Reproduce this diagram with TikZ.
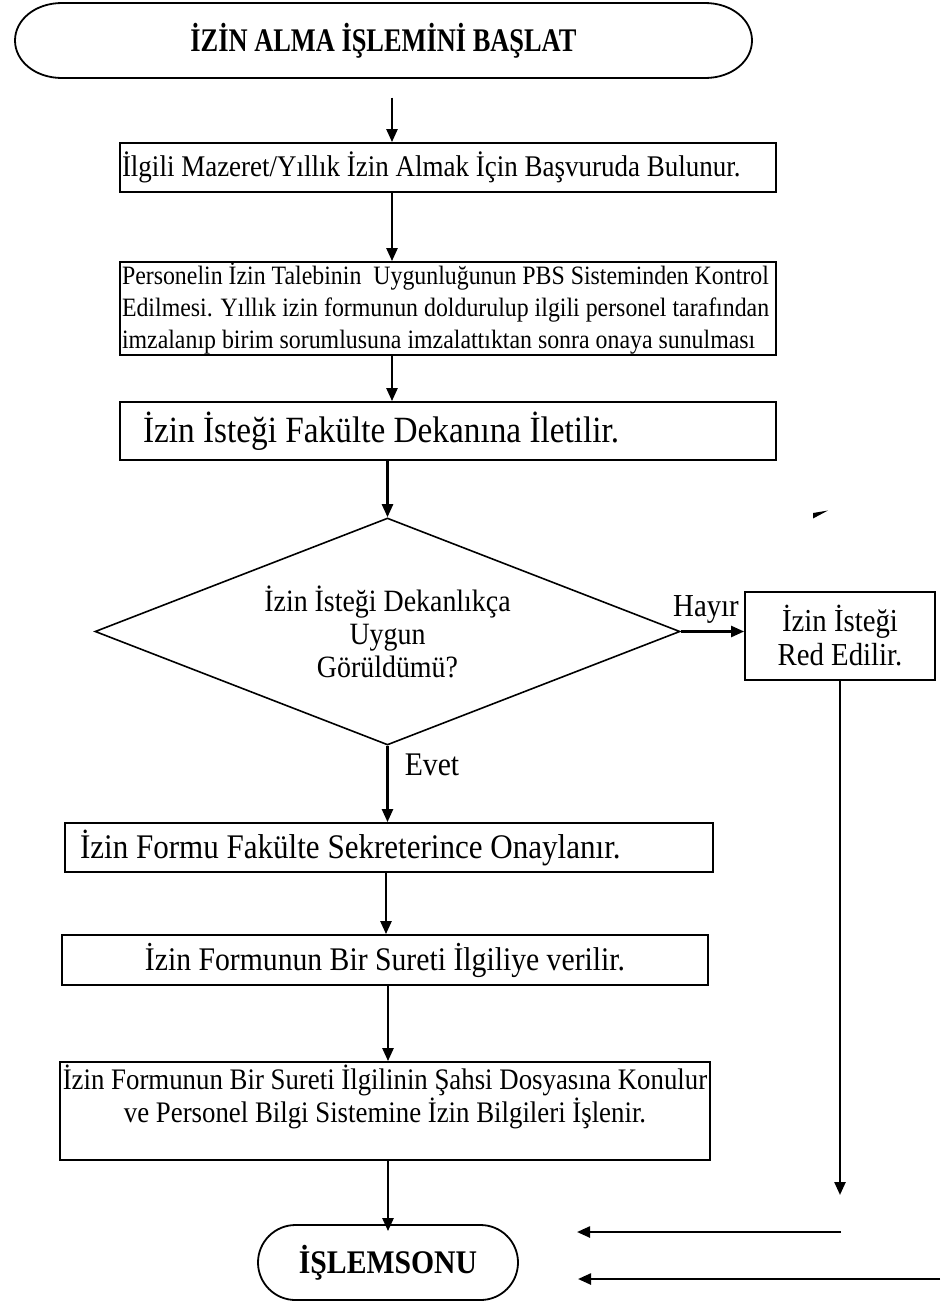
\documentclass[tikz,border=0pt]{standalone}
\usepackage{fontspec}
\setmainfont{Liberation Serif}[FakeStretch=0.9]
\newfontfamily\headfont{Liberation Serif}[FakeStretch=0.8]
\usetikzlibrary{arrows.meta,shapes.geometric,shapes.misc,calc}

\newcommand{\fs}[2]{\fontsize{#1pt}{#2pt}\selectfont}
% keep the font's own interword spacing inside left-aligned nodes
\newcommand{\natsp}{\spaceskip=0pt\xspaceskip=0pt\relax}

\begin{document}
\begin{tikzpicture}[x=1pt,y=-1pt,
  procbox/.style={draw, line width=1.8pt, rectangle, inner ysep=0pt},
  arr/.style={line width=2.4pt, -{Triangle[length=13pt,width=11pt]}},
  lbl/.style={inner sep=0pt}
]
\useasboundingbox[fill=white] (0,0) rectangle (942,1304);

% start terminal
\node[inner sep=0pt, minimum width=737pt, minimum height=75pt, font=\headfont\bfseries\fs{33}{35}]
  (start) at (383.5,41) {İZİN ALMA İŞLEMİNİ BAŞLAT};
\draw[line width=1.8pt]
  (62,3) -- (705,3)
  .. controls (732,3) and (752,20) .. (752,40.5)
  .. controls (752,61) and (732,78) .. (705,78)
  -- (62,78)
  .. controls (35,78) and (15,61) .. (15,40.5)
  .. controls (15,20) and (35,3) .. cycle;

% process boxes
\node[procbox, inner xsep=2pt, text width=652pt, minimum height=49pt, align=left, font=\fs{30}{33}]
  (b1) at (448,167.5) {\natsp\mbox{İlgili Mazeret/Yıllık İzin Almak İçin Başvuruda Bulunur.}};

\node[procbox, inner xsep=2pt, text width=652pt, minimum height=93pt, align=left, font=\fs{26.5}{32}]
  (b2) at (448,308.5) {\natsp\mbox{Personelin İzin Talebinin~ Uygunluğunun PBS Sisteminden Kontrol}\\
  \mbox{Edilmesi. Yıllık izin formunun doldurulup ilgili personel tarafından}\\
  \mbox{imzalanıp birim sorumlusuna imzalattıktan sonra onaya sunulması}};

\node[procbox, inner xsep=23pt, text width=610pt, minimum height=58pt, align=left, font=\fs{37}{38}]
  (b3) at (448,431) {\natsp\mbox{İzin İsteği Fakülte Dekanına İletilir.}};

% decision
\node[draw, diamond, line width=1.6pt, aspect=2.577, minimum width=585pt, minimum height=227pt,
  inner sep=0pt, align=center, font=\fs{31}{33}]
  (dec) at (387.5,631.5) {İzin İsteği Dekanlıkça\\Uygun\\Görüldümü?};

\node[procbox, minimum width=190pt, minimum height=88pt, align=center, font=\fs{32}{34}]
  (red) at (840,636) {İzin İsteği\\Red Edilir.};

\node[procbox, inner xsep=15pt, text width=618pt, minimum height=49pt, align=left, font=\fs{34.5}{35}]
  (b4) at (389,847.5) {\natsp\mbox{İzin Formu Fakülte Sekreterince Onaylanır.}};

\node[procbox, minimum width=646pt, minimum height=50pt, align=center, font=\fs{33}{34}]
  (b5) at (385,960) {İzin Formunun Bir Sureti İlgiliye verilir.};

\node[procbox, inner xsep=0pt, minimum width=650pt, minimum height=98pt, align=center, font=\fs{29.8}{33}]
  (b6) at (385,1111) {İzin Formunun Bir Sureti İlgilinin Şahsi Dosyasına Konulur\\
  ve Personel Bilgi Sistemine İzin Bilgileri İşlenir.\\[-8pt]\strut};

% end terminal
\node[draw, rounded rectangle, line width=1.8pt, minimum width=260pt, minimum height=75pt,
  inner sep=0pt, font=\bfseries\fs{33}{35}]
  (stop) at (388,1262.5) {İŞLEMSONU};

% labels
\node[lbl, font=\fs{32}{34}] (hayir) at (706,609) {Hayır};
\node[lbl, font=\fs{33}{34}] (evet) at (432,765) {Evet};

% connector columns
\coordinate (colA) at (392,0);
\coordinate (colB) at (386,0);
\coordinate (colC) at (388,0);
\coordinate (redEnd) at (840,1195);
\coordinate (backA) at (841,1232);
\coordinate (backAend) at (577,1232);
\coordinate (backB) at (940,1279);
\coordinate (backBend) at (578,1279);

% connectors
\draw[arr, shorten <=19pt] (start.south -| colA) -- (b1.north -| colA);
\draw[arr] (b1.south -| colA) -- (b2.north -| colA);
\draw[arr] (b2.south -| colA) -- (b3.north -| colA);
\draw[arr] (b3.south -| dec.north) -- (dec.north);
\draw[arr] (dec.east) -- (dec.east -| red.west);
\draw[arr] (red.south) -- (redEnd);
\draw[arr] (backA) -- (backAend);
\draw[arr] (backB) -- (backBend);
\draw[arr] (dec.south) -- (dec.south |- b4.north);
\draw[arr] (b4.south -| colB) -- (b5.north -| colB);
\draw[arr] (b5.south -| colC) -- (b6.north -| colC);
\draw[arr, shorten >=-7pt] (b6.south -| colC) -- (stop.north -| colC);

% small stray wedge
\fill (813,513) -- (828,510.5) -- (813,518.5) -- cycle;
\end{tikzpicture}
\end{document}
